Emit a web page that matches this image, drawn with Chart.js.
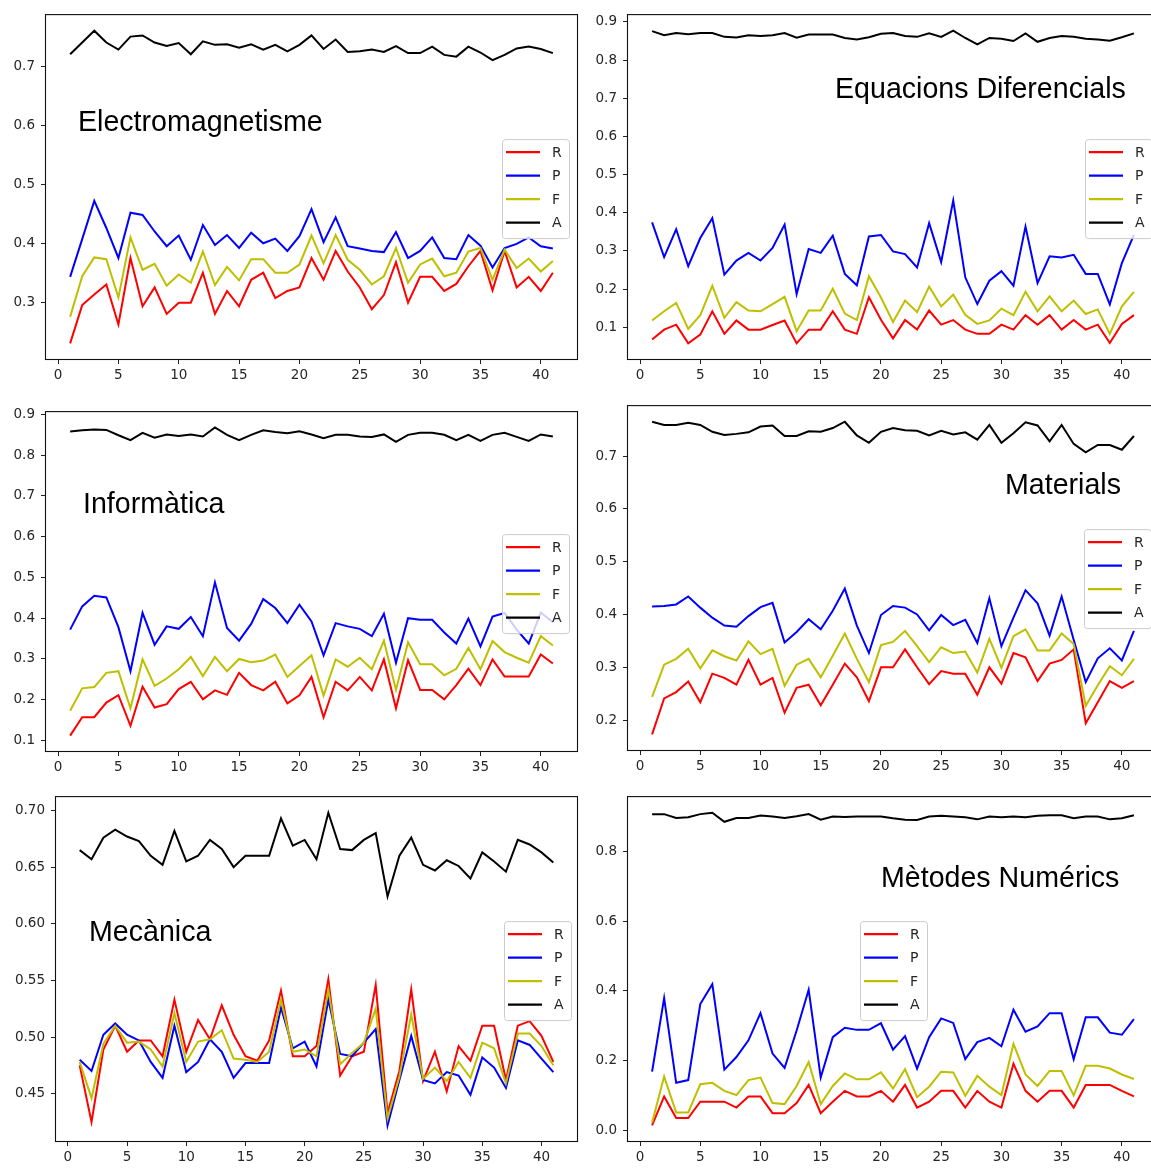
<!DOCTYPE html>
<html>
<head>
<meta charset="utf-8">
<script src="https://cdn.jsdelivr.net/npm/chart.js@4.4.1/dist/chart.umd.min.js"></script>
<style>
  html, body { margin: 0; padding: 0; background: #fff; overflow: hidden; width: 1151px; height: 1168px; }
  canvas { position: absolute; }
</style>
</head>
<body>
<canvas id="c0"></canvas>
<canvas id="c1"></canvas>
<canvas id="c2"></canvas>
<canvas id="c3"></canvas>
<canvas id="c4"></canvas>
<canvas id="c5"></canvas>
<script>
// Runs on the x axis
const runs = [1,2,3,4,5,6,7,8,9,10,11,12,13,14,15,16,17,18,19,20,21,22,23,24,25,26,27,28,29,30,31,32,33,34,35,36,37,38,39,40,41];
const seriesLabels = ['R', 'P', 'F', 'A'];

// Tick labels
const xTickLabels = ['0','5','10','15','20','25','30','35','40'];
const emYTicks  = ['0.3','0.4','0.5','0.6','0.7'];
const edYTicks  = ['0.1','0.2','0.3','0.4','0.5','0.6','0.7','0.8','0.9'];
const infYTicks = ['0.1','0.2','0.3','0.4','0.5','0.6','0.7','0.8','0.9'];
const matYTicks = ['0.2','0.3','0.4','0.5','0.6','0.7'];
const mecYTicks = ['0.45','0.50','0.55','0.60','0.65','0.70'];
const mnYTicks  = ['0.0','0.2','0.4','0.6','0.8'];

// Electromagnetisme
const emR = [0.230,0.295,0.313,0.330,0.262,0.375,0.293,0.325,0.280,0.299,0.299,0.350,0.280,0.319,0.293,0.338,0.350,0.307,0.319,0.325,0.375,0.338,0.387,0.352,0.325,0.288,0.312,0.368,0.299,0.343,0.343,0.319,0.331,0.361,0.387,0.320,0.387,0.325,0.343,0.319,0.350];
const emP = [0.343,0.407,0.472,0.426,0.375,0.452,0.448,0.420,0.395,0.413,0.372,0.431,0.397,0.414,0.392,0.418,0.400,0.408,0.387,0.412,0.458,0.402,0.444,0.395,0.391,0.387,0.385,0.419,0.375,0.387,0.410,0.375,0.373,0.414,0.396,0.359,0.392,0.399,0.410,0.395,0.391];
const emF = [0.275,0.344,0.376,0.373,0.308,0.410,0.355,0.365,0.328,0.347,0.333,0.386,0.329,0.360,0.337,0.373,0.373,0.350,0.350,0.364,0.413,0.366,0.414,0.372,0.355,0.330,0.344,0.392,0.333,0.364,0.374,0.344,0.350,0.386,0.392,0.338,0.389,0.358,0.374,0.352,0.370];
const emA = [0.721,0.741,0.761,0.741,0.729,0.751,0.753,0.741,0.735,0.740,0.721,0.743,0.737,0.738,0.732,0.738,0.729,0.737,0.726,0.737,0.753,0.730,0.746,0.725,0.726,0.729,0.725,0.735,0.723,0.723,0.734,0.720,0.717,0.734,0.724,0.711,0.720,0.731,0.734,0.730,0.723];

// Equacions Diferencials
const edR = [0.068,0.094,0.107,0.058,0.081,0.142,0.083,0.118,0.094,0.094,0.106,0.118,0.058,0.094,0.094,0.142,0.094,0.083,0.179,0.120,0.071,0.119,0.094,0.144,0.107,0.119,0.094,0.083,0.083,0.107,0.094,0.132,0.107,0.132,0.094,0.119,0.094,0.107,0.059,0.109,0.132];
const edP = [0.375,0.284,0.357,0.260,0.334,0.386,0.238,0.275,0.295,0.275,0.308,0.369,0.187,0.305,0.295,0.340,0.240,0.210,0.338,0.342,0.299,0.292,0.257,0.373,0.271,0.432,0.231,0.161,0.222,0.247,0.209,0.364,0.216,0.286,0.283,0.290,0.240,0.240,0.160,0.268,0.342];
const edF = [0.118,0.142,0.164,0.096,0.132,0.209,0.125,0.166,0.144,0.142,0.161,0.180,0.090,0.144,0.144,0.201,0.136,0.119,0.234,0.178,0.114,0.170,0.140,0.207,0.155,0.186,0.133,0.109,0.118,0.149,0.132,0.193,0.142,0.181,0.142,0.170,0.135,0.147,0.083,0.155,0.193];
const edA = [0.876,0.865,0.871,0.868,0.871,0.871,0.861,0.859,0.865,0.863,0.865,0.871,0.859,0.867,0.867,0.867,0.858,0.854,0.860,0.869,0.871,0.863,0.861,0.870,0.861,0.877,0.858,0.841,0.858,0.856,0.850,0.870,0.848,0.858,0.863,0.861,0.856,0.854,0.851,0.860,0.870];

// Informàtica
const infR = [0.112,0.157,0.157,0.193,0.211,0.136,0.232,0.181,0.189,0.226,0.244,0.201,0.223,0.212,0.266,0.236,0.223,0.244,0.191,0.211,0.256,0.157,0.244,0.223,0.256,0.223,0.299,0.179,0.297,0.224,0.224,0.201,0.236,0.276,0.236,0.299,0.257,0.257,0.257,0.311,0.289];
const infP = [0.372,0.429,0.455,0.451,0.378,0.270,0.413,0.335,0.380,0.374,0.403,0.356,0.488,0.376,0.345,0.386,0.447,0.425,0.388,0.433,0.392,0.309,0.388,0.380,0.374,0.356,0.411,0.291,0.400,0.396,0.396,0.365,0.338,0.399,0.331,0.404,0.413,0.372,0.338,0.414,0.390];
const infF = [0.173,0.228,0.231,0.266,0.270,0.179,0.299,0.234,0.252,0.275,0.305,0.258,0.305,0.270,0.300,0.292,0.296,0.311,0.256,0.283,0.309,0.210,0.299,0.281,0.303,0.275,0.345,0.224,0.341,0.287,0.287,0.260,0.276,0.327,0.275,0.344,0.317,0.303,0.291,0.356,0.333];
const infA = [0.858,0.861,0.863,0.862,0.849,0.837,0.855,0.843,0.851,0.847,0.851,0.846,0.868,0.850,0.837,0.850,0.861,0.857,0.854,0.859,0.851,0.842,0.850,0.850,0.846,0.845,0.851,0.833,0.850,0.855,0.855,0.850,0.837,0.850,0.835,0.850,0.855,0.845,0.835,0.851,0.846];

// Materials
const matR = [0.173,0.241,0.253,0.273,0.234,0.288,0.280,0.267,0.314,0.267,0.280,0.214,0.261,0.267,0.228,0.267,0.307,0.281,0.236,0.300,0.300,0.334,0.300,0.268,0.293,0.288,0.288,0.248,0.300,0.269,0.327,0.319,0.274,0.307,0.314,0.334,0.194,0.234,0.274,0.261,0.274];
const matP = [0.415,0.416,0.419,0.434,0.413,0.394,0.379,0.377,0.397,0.414,0.422,0.347,0.367,0.391,0.372,0.407,0.449,0.379,0.327,0.399,0.416,0.413,0.400,0.370,0.399,0.380,0.390,0.346,0.431,0.340,0.394,0.446,0.421,0.360,0.434,0.352,0.272,0.317,0.336,0.313,0.369];
const matF = [0.244,0.305,0.316,0.335,0.298,0.332,0.321,0.313,0.349,0.325,0.335,0.265,0.305,0.316,0.281,0.322,0.364,0.316,0.272,0.342,0.348,0.369,0.340,0.310,0.338,0.327,0.330,0.290,0.354,0.299,0.359,0.372,0.332,0.332,0.364,0.344,0.227,0.266,0.302,0.285,0.316];
const matA = [0.765,0.759,0.759,0.763,0.759,0.746,0.740,0.742,0.745,0.756,0.758,0.738,0.738,0.747,0.746,0.753,0.765,0.739,0.725,0.746,0.753,0.749,0.748,0.739,0.748,0.741,0.745,0.731,0.759,0.725,0.743,0.764,0.758,0.728,0.759,0.723,0.707,0.721,0.721,0.712,0.738];

// Mecànica
const mecR = [0.475,0.425,0.489,0.510,0.487,0.497,0.497,0.483,0.533,0.487,0.515,0.498,0.528,0.502,0.483,0.479,0.497,0.541,0.483,0.483,0.492,0.551,0.466,0.483,0.487,0.546,0.433,0.470,0.542,0.461,0.487,0.452,0.492,0.479,0.510,0.510,0.462,0.510,0.514,0.501,0.478];
const mecP = [0.480,0.470,0.502,0.512,0.502,0.497,0.478,0.464,0.510,0.469,0.478,0.498,0.487,0.464,0.477,0.477,0.477,0.526,0.490,0.496,0.474,0.533,0.485,0.483,0.495,0.507,0.422,0.462,0.501,0.462,0.459,0.469,0.466,0.449,0.482,0.473,0.455,0.497,0.493,0.481,0.469];
const mecF = [0.478,0.446,0.494,0.510,0.495,0.496,0.489,0.474,0.521,0.478,0.496,0.498,0.506,0.481,0.480,0.478,0.487,0.533,0.487,0.489,0.483,0.542,0.476,0.486,0.495,0.525,0.428,0.465,0.520,0.463,0.473,0.461,0.478,0.464,0.495,0.490,0.459,0.503,0.503,0.492,0.475];
const mecA = [0.665,0.657,0.676,0.683,0.677,0.673,0.660,0.652,0.682,0.655,0.660,0.674,0.666,0.650,0.660,0.660,0.660,0.693,0.669,0.674,0.657,0.698,0.666,0.665,0.674,0.680,0.624,0.660,0.676,0.652,0.647,0.656,0.651,0.640,0.663,0.655,0.646,0.674,0.670,0.663,0.654];

// Mètodes Numérics
const mnR = [0.014,0.097,0.035,0.035,0.082,0.082,0.082,0.065,0.097,0.097,0.049,0.049,0.078,0.130,0.049,0.082,0.113,0.097,0.097,0.113,0.082,0.130,0.065,0.082,0.113,0.113,0.065,0.113,0.082,0.065,0.191,0.113,0.082,0.113,0.113,0.065,0.130,0.130,0.130,0.113,0.097];
const mnP = [0.168,0.379,0.136,0.144,0.362,0.419,0.174,0.210,0.258,0.336,0.220,0.179,0.286,0.403,0.151,0.267,0.294,0.288,0.288,0.307,0.231,0.270,0.177,0.267,0.321,0.308,0.204,0.253,0.265,0.241,0.346,0.283,0.298,0.336,0.336,0.204,0.324,0.324,0.280,0.274,0.319];
const mnF = [0.022,0.154,0.051,0.051,0.132,0.136,0.113,0.101,0.144,0.151,0.078,0.075,0.127,0.196,0.075,0.127,0.163,0.146,0.146,0.166,0.120,0.175,0.095,0.125,0.168,0.166,0.099,0.156,0.125,0.101,0.248,0.160,0.127,0.170,0.170,0.100,0.185,0.185,0.177,0.160,0.147];
const mnA = [0.907,0.907,0.896,0.898,0.907,0.911,0.885,0.896,0.896,0.903,0.900,0.896,0.901,0.907,0.891,0.900,0.899,0.900,0.900,0.900,0.895,0.891,0.890,0.900,0.902,0.900,0.898,0.892,0.900,0.898,0.900,0.898,0.902,0.904,0.904,0.895,0.900,0.900,0.892,0.895,0.904];

// Line colours for R, P, F, A
const seriesColors = ['#ff0000', '#0000ff', '#bfbf00', '#000000'];

// Layout of each subplot: plot-area box on the page, y-axis gutter, title and legend anchors
const PAD_T = 12, PAD_R = 12, X_AXIS_H = 30;
const panels = [
  { id: 'c0', title: 'Electromagnetisme', series: [emR, emP, emF, emA], yTicks: emYTicks,
    area: { l: 46, r: 577, t: 13, b: 359 }, yw: 46, titleAt: [32, 116], legendAt: [456, 124] },
  { id: 'c1', title: 'Equacions Diferencials', series: [edR, edP, edF, edA], yTicks: edYTicks,
    area: { l: 628, r: 1158, t: 13, b: 359 }, yw: 48, titleAt: [207, 83], legendAt: [457, 124] },
  { id: 'c2', title: 'Informàtica', series: [infR, infP, infF, infA], yTicks: infYTicks,
    area: { l: 46, r: 577, t: 410, b: 751 }, yw: 46, titleAt: [37, 101], legendAt: [456, 122] },
  { id: 'c3', title: 'Materials', series: [matR, matP, matF, matA], yTicks: matYTicks,
    area: { l: 628, r: 1158, t: 404, b: 750 }, yw: 48, titleAt: [377, 88], legendAt: [456, 123] },
  { id: 'c4', title: 'Mecànica', series: [mecR, mecP, mecF, mecA], yTicks: mecYTicks,
    area: { l: 56, r: 577, t: 795, b: 1141 }, yw: 56, titleAt: [33, 144], legendAt: [448, 124] },
  { id: 'c5', title: 'Mètodes Numérics', series: [mnR, mnP, mnF, mnA], yTicks: mnYTicks,
    area: { l: 628, r: 1158, t: 795, b: 1141 }, yw: 48, titleAt: [253, 90], legendAt: [232, 124] }
];

const TICK_FONT = { family: 'DejaVu Sans', size: 13.5 };
const TICK_COLOR = '#262626';

// Frame, in-axes title and legend box, drawn on top of the lines
const decor = {
  id: 'decor',
  afterDraw(chart, args, opts) {
    const { ctx, chartArea: a } = chart;
    ctx.save();
    // four-sided frame
    ctx.strokeStyle = '#111';
    ctx.lineWidth = 1.1;
    ctx.strokeRect(a.left - 0.5, a.top - 0.5, a.right - a.left + 1, a.bottom - a.top + 1);
    // title
    ctx.fillStyle = '#000';
    ctx.font = '28.6px "Liberation Sans", Arial, sans-serif';
    ctx.textBaseline = 'alphabetic';
    ctx.textAlign = 'left';
    ctx.fillText(opts.title, a.left + opts.titleAt[0], a.top + opts.titleAt[1]);
    // legend
    const bx = a.left + opts.legendAt[0], by = a.top + opts.legendAt[1];
    const bw = 67, bh = 99;
    ctx.beginPath();
    ctx.roundRect(bx + 0.5, by + 0.5, bw, bh, 3);
    ctx.fillStyle = 'rgba(255,255,255,0.8)';
    ctx.fill();
    ctx.strokeStyle = '#cccccc';
    ctx.lineWidth = 1;
    ctx.stroke();
    ctx.font = '14px "DejaVu Sans"';
    ctx.textBaseline = 'middle';
    chart.data.datasets.forEach((ds, i) => {
      const y = by + 13 + i * 23.5;
      ctx.strokeStyle = ds.borderColor;
      ctx.lineWidth = 2.2;
      ctx.beginPath();
      ctx.moveTo(bx + 4, y);
      ctx.lineTo(bx + 38, y);
      ctx.stroke();
      ctx.fillStyle = TICK_COLOR;
      ctx.fillText(ds.label, bx + 50, y + 1);
    });
    ctx.restore();
  }
};

function yRange(series) {
  let lo = Infinity, hi = -Infinity;
  series.forEach(s => s.forEach(v => { lo = Math.min(lo, v); hi = Math.max(hi, v); }));
  const pad = (hi - lo) * 0.05;
  return [lo - pad, hi + pad];
}

function build(p) {
  const cv = document.getElementById(p.id);
  const w = (p.area.r - p.area.l) + p.yw + PAD_R;
  const h = (p.area.b - p.area.t) + PAD_T + X_AXIS_H;
  cv.width = w; cv.height = h;
  cv.style.width = w + 'px'; cv.style.height = h + 'px';
  cv.style.left = (p.area.l - p.yw) + 'px';
  cv.style.top = (p.area.t - PAD_T) + 'px';

  const [ymin, ymax] = yRange(p.series);
  const datasets = p.series.map((vals, i) => ({
    label: seriesLabels[i],
    data: runs.map((r, k) => ({ x: r, y: vals[k] })),
    borderColor: seriesColors[i],
    borderWidth: 2,
    pointRadius: 0,
    fill: false,
    tension: 0,
    order: 4 - i
  }));

  new Chart(cv, {
    type: 'line',
    data: { datasets },
    plugins: [decor],
    options: {
      responsive: false,
      animation: false,
      devicePixelRatio: 1,
      layout: { padding: { top: PAD_T, right: PAD_R, left: 0, bottom: 0 } },
      plugins: {
        legend: { display: false },
        tooltip: { enabled: false },
        decor: { title: p.title, titleAt: p.titleAt, legendAt: p.legendAt }
      },
      scales: {
        x: {
          type: 'linear', min: -1, max: 43,
          afterFit: s => { s.height = X_AXIS_H; },
          afterBuildTicks: s => { s.ticks = xTickLabels.map(t => ({ value: Number(t) })); },
          ticks: {
            callback: v => xTickLabels.find(t => Number(t) === v) ?? '',
            font: TICK_FONT, color: TICK_COLOR, padding: 3, maxRotation: 0, autoSkip: false
          },
          grid: { drawOnChartArea: false, drawTicks: true, tickLength: 5, tickColor: '#222', tickWidth: 1 },
          border: { display: false }
        },
        y: {
          type: 'linear', min: ymin, max: ymax,
          afterFit: s => { s.width = p.yw; },
          afterBuildTicks: s => { s.ticks = p.yTicks.map(t => ({ value: Number(t) })); },
          ticks: {
            callback: v => p.yTicks.find(t => Math.abs(Number(t) - v) < 1e-9) ?? '',
            font: TICK_FONT, color: TICK_COLOR, padding: 6, autoSkip: false
          },
          grid: { drawOnChartArea: false, drawTicks: true, tickLength: 5, tickColor: '#222', tickWidth: 1 },
          border: { display: false }
        }
      }
    }
  });
}

panels.forEach(build);
</script>
</body>
</html>
